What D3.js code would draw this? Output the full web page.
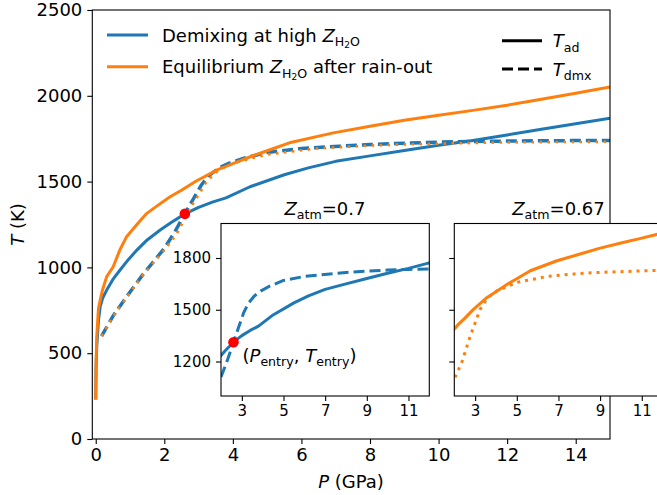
<!DOCTYPE html>
<html>
<head>
<meta charset="utf-8">
<script src="https://cdn.jsdelivr.net/npm/d3@7"></script>
<style>
  body { margin: 0; background: #fff; }
  svg { font-family: "DejaVu Sans", sans-serif; }
</style>
</head>
<body>
<div id="chart"></div>
<script>
// Demixing at high Z_H2O -- adiabat and demixing curve
var blueAdP = [0, 0.01, 0.03, 0.08, 0.13, 0.2, 0.32, 0.5, 0.71, 0.95, 1.2, 1.5, 1.88, 2.2, 2.6, 3.0, 3.4, 3.8, 4.5, 5.5, 6.2, 7.0, 8.0, 9.0, 10.0, 11.0, 12.0, 13.0, 14.0, 15.0];
var blueAdT = [230, 420, 540, 690, 771, 820, 868, 930, 985, 1045, 1101, 1160, 1218, 1262, 1312, 1350, 1380, 1405, 1470, 1540, 1580, 1618, 1650, 1681, 1712, 1740, 1772, 1805, 1837, 1870];
var blueDmxP = [0.17, 0.5, 0.9, 1.4, 2.0, 2.3, 2.6, 2.85, 3.08, 3.3, 3.6, 3.9, 4.3, 5.0, 6.0, 7.1, 8.0, 9.0, 10.0, 11.0, 12.0, 13.0, 14.0, 15.0];
var blueDmxT = [600, 715, 829, 965, 1110, 1205, 1312, 1400, 1480, 1535, 1580, 1608, 1635, 1670, 1693, 1706, 1716, 1724, 1730, 1734, 1736, 1738, 1739, 1740];

// Equilibrium Z_H2O after rain-out
var orangeAdP = [0, 0.01, 0.03, 0.08, 0.13, 0.2, 0.32, 0.51, 0.7, 0.9, 1.2, 1.49, 1.8, 2.17, 2.5, 2.92, 3.56, 4.0, 4.6, 5.0, 5.65, 6.93, 8.0, 9.0, 10.0, 11.0, 12.0, 13.0, 14.0, 15.0];
var orangeAdT = [230, 450, 600, 760, 810, 870, 946, 1004, 1100, 1179, 1250, 1315, 1360, 1412, 1450, 1502, 1570, 1605, 1652, 1680, 1726, 1784, 1822, 1857, 1887, 1915, 1945, 1980, 2015, 2051];
var orangeDmxP = [0.17, 0.5, 0.9, 1.4, 2.0, 2.36, 2.76, 3.24, 3.6, 4.04, 5.0, 6.45, 8.0, 8.86, 10.0, 11.75, 13.0, 15.0];
var orangeDmxT = [600, 712, 826, 962, 1100, 1195, 1345, 1502, 1570, 1609, 1658, 1693, 1710, 1716, 1721, 1728, 1730, 1732];

var entryP = 2.6, entryT = 1312;

var mainXTicks = [0, 2, 4, 6, 8, 10, 12, 14];
var mainYTicks = [0, 500, 1000, 1500, 2000, 2500];
var insetXTicks = [3, 5, 7, 9, 11];
var insetYTicks = [1200, 1500, 1800];

var blue = "#1f77b4", orange = "#ff7f0e";

var svg = d3.select("#chart").append("svg")
    .attr("width", 657)
    .attr("height", 495);

function toPoints(ps, ts) {
  return ps.map((p, i) => ({p: p, t: ts[i]}));
}

function makeAxes(id, left, top, w, h, xDomain, yDomain) {
  var g = svg.append("g").attr("transform", "translate(" + left + "," + top + ")");
  g.append("rect").attr("width", w).attr("height", h).attr("fill", "white");
  g.append("clipPath").attr("id", id)
    .append("rect").attr("width", w).attr("height", h);
  var x = d3.scaleLinear().domain(xDomain).range([0, w]);
  var y = d3.scaleLinear().domain(yDomain).range([h, 0]);
  var plot = g.append("g").attr("clip-path", "url(#" + id + ")");
  return {g: g, plot: plot, x: x, y: y, w: w, h: h};
}

function drawLine(ax, ps, ts, color, width, dash) {
  var line = d3.line().x(d => ax.x(d.p)).y(d => ax.y(d.t));
  ax.plot.append("path")
    .attr("d", line(toPoints(ps, ts)))
    .attr("fill", "none")
    .attr("stroke", color)
    .attr("stroke-width", width)
    .attr("stroke-linejoin", "round")
    .attr("stroke-dasharray", dash || null);
}

function finishAxes(ax, xTicks, yTicks, fontSize, showYLabels) {
  var xa = ax.g.append("g")
      .attr("transform", "translate(0," + ax.h + ")")
      .call(d3.axisBottom(ax.x).tickValues(xTicks).tickSize(5).tickPadding(4).tickFormat(d3.format("d")));
  var ya = ax.g.append("g")
      .call(d3.axisLeft(ax.y).tickValues(yTicks).tickSize(5).tickPadding(5).tickFormat(d3.format("d")));
  [xa, ya].forEach(a => {
    a.select(".domain").remove();
    a.selectAll("line").attr("stroke", "#000").attr("stroke-width", 1.1);
    a.selectAll("text").attr("fill", "#000")
      .style("font-family", "DejaVu Sans").style("font-size", fontSize + "px");
  });
  if (!showYLabels) ya.selectAll("text").remove();
  ax.g.append("rect")
    .attr("width", ax.w).attr("height", ax.h)
    .attr("fill", "none").attr("stroke", "#000").attr("stroke-width", 1.1);
}

// main panel
var main = makeAxes("clipMain", 92.3, 10, 517.7, 429, [-0.1, 15], [0, 2500]);
drawLine(main, blueAdP, blueAdT, blue, 3);
drawLine(main, blueDmxP, blueDmxT, blue, 3.5, "11,5");
drawLine(main, orangeAdP, orangeAdT, orange, 3);
drawLine(main, orangeDmxP, orangeDmxT, orange, 2.6, "2.6,5.4");
main.plot.append("circle")
  .attr("cx", main.x(entryP)).attr("cy", main.y(entryT))
  .attr("r", 5.3).attr("fill", "red");
finishAxes(main, mainXTicks, mainYTicks, 18, true);

// axis labels
var xl = svg.append("text").attr("x", 351).attr("y", 488)
    .attr("text-anchor", "middle").style("font-size", "18px");
xl.append("tspan").attr("font-style", "italic").text("P");
xl.append("tspan").text(" (GPa)");
var yl = svg.append("text")
    .attr("transform", "translate(24,224.5) rotate(-90)")
    .attr("text-anchor", "middle").style("font-size", "18px");
yl.append("tspan").attr("font-style", "italic").text("T");
yl.append("tspan").text(" (K)");

// legend: colours
var legend = svg.append("g").style("font-size", "18px");
function zH2O(t) {
  t.append("tspan").attr("font-style", "italic").text("Z");
  t.append("tspan").attr("dy", 4.5).style("font-size", "12.6px").text("H");
  t.append("tspan").attr("dy", 2).style("font-size", "9px").text("2");
  t.append("tspan").attr("dy", -2).style("font-size", "12.6px").text("O");
}
legend.append("line").attr("x1", 107).attr("x2", 148).attr("y1", 35).attr("y2", 35)
  .attr("stroke", blue).attr("stroke-width", 3);
var l1 = legend.append("text").attr("x", 162).attr("y", 41.5);
l1.append("tspan").text("Demixing at high ");
zH2O(l1);
legend.append("line").attr("x1", 107).attr("x2", 148).attr("y1", 66.7).attr("y2", 66.7)
  .attr("stroke", orange).attr("stroke-width", 3);
var l2 = legend.append("text").attr("x", 162).attr("y", 73);
l2.append("tspan").text("Equilibrium ");
zH2O(l2);
l2.append("tspan").attr("dy", -4.5).text(" after rain-out");

// legend: line styles
function tSub(t, sub) {
  t.append("tspan").attr("font-style", "italic").text("T");
  t.append("tspan").attr("dy", 4.5).style("font-size", "12.6px").text(sub);
}
legend.append("line").attr("x1", 502).attr("x2", 542).attr("y1", 40.7).attr("y2", 40.7)
  .attr("stroke", "#000").attr("stroke-width", 3);
tSub(legend.append("text").attr("x", 552.7).attr("y", 47), "ad");
legend.append("line").attr("x1", 502).attr("x2", 542).attr("y1", 69).attr("y2", 69)
  .attr("stroke", "#000").attr("stroke-width", 3).attr("stroke-dasharray", "11,5");
tSub(legend.append("text").attr("x", 552.7).attr("y", 75.5), "dmx");

// inset titles
function insetTitle(cx, value) {
  var t = svg.append("text").attr("x", cx).attr("y", 215)
      .attr("text-anchor", "middle").style("font-size", "18px");
  t.append("tspan").attr("font-style", "italic").text("Z");
  t.append("tspan").attr("dy", 4).style("font-size", "12.6px").text("atm");
  t.append("tspan").attr("dy", -4).text("=" + value);
}

// inset 1: demixing at high Z
var in1 = makeAxes("clipIn1", 221, 223.5, 208.3, 172.5, [2, 12], [1000, 2000]);
drawLine(in1, blueAdP, blueAdT, blue, 3);
drawLine(in1, blueDmxP, blueDmxT, blue, 3, "11,5");
in1.plot.append("circle")
  .attr("cx", in1.x(entryP)).attr("cy", in1.y(entryT))
  .attr("r", 5.3).attr("fill", "red");
finishAxes(in1, insetXTicks, insetYTicks, 15, true);
var ann = in1.g.append("text")
    .attr("x", in1.x(entryP) + 9).attr("y", in1.y(entryT) + 20)
    .style("font-size", "18px");
ann.append("tspan").text("(");
ann.append("tspan").attr("font-style", "italic").text("P");
ann.append("tspan").attr("dy", 4).style("font-size", "12.6px").text("entry");
ann.append("tspan").attr("dy", -4).text(", ");
ann.append("tspan").attr("font-style", "italic").text("T");
ann.append("tspan").attr("dy", 4).style("font-size", "12.6px").text("entry");
ann.append("tspan").attr("dy", -4).text(")");
insetTitle(325, "0.7");

// inset 2: equilibrium Z
var in2 = makeAxes("clipIn2", 454.3, 223.5, 208.3, 172.5, [2, 12], [1000, 2000]);
drawLine(in2, orangeAdP, orangeAdT, orange, 3);
drawLine(in2, orangeDmxP, orangeDmxT, orange, 3, "3,5");
finishAxes(in2, insetXTicks, insetYTicks, 15, false);
insetTitle(558.5, "0.67");
</script>
</body>
</html>
